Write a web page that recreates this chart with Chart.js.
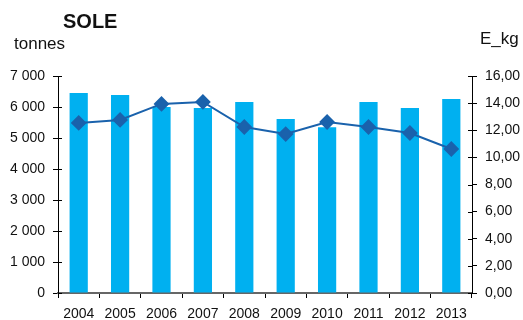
<!DOCTYPE html>
<html>
<head>
<meta charset="utf-8">
<script src="https://cdn.jsdelivr.net/npm/chart.js@4/dist/chart.umd.min.js"></script>
<style>
  body { margin: 0; background: #fff; }
  #wrap { position: relative; width: 523px; height: 320px; font-family: "Liberation Sans", Arial, sans-serif; }
  .lbl { position: absolute; color: #111; white-space: nowrap; }
</style>
</head>
<body>
<div id="wrap">
  <canvas id="c" width="523" height="320"></canvas>
  <div class="lbl" style="left:63px; top:10px; font-size:20px; font-weight:bold;">SOLE</div>
  <div class="lbl" style="left:14px; top:34px; font-size:17px;">tonnes</div>
  <div class="lbl" style="left:480px; top:29px; font-size:17px;">E_kg</div>
</div>
<script>
const years = ['2004', '2005', '2006', '2007', '2008', '2009', '2010', '2011', '2012', '2013'];
const tonnes = [6450, 6390, 6000, 5970, 6160, 5610, 5350, 6160, 5970, 6260];
const eKg = [12.54, 12.76, 13.94, 14.09, 12.24, 11.72, 12.61, 12.24, 11.80, 10.62];
const leftTicks = [0, 1000, 2000, 3000, 4000, 5000, 6000, 7000];
const rightTicks = [0, 2, 4, 6, 8, 10, 12, 14, 16];

// short inner tick marks on the y axes (Excel style crossing ticks)
const innerTicks = {
    id: 'innerTicks',
    afterDatasetsDraw(chart) {
        const ctx = chart.ctx;
        ctx.save();
        ctx.strokeStyle = '#000';
        ctx.lineWidth = 1;
        const l = chart.scales.y, r = chart.scales.y2;
        leftTicks.forEach(v => {
            const y = Math.round(l.getPixelForValue(v)) + 0.5;
            ctx.beginPath(); ctx.moveTo(l.right, y); ctx.lineTo(l.right + 4, y); ctx.stroke();
        });
        rightTicks.forEach(v => {
            const y = Math.round(r.getPixelForValue(v)) + 0.5;
            ctx.beginPath(); ctx.moveTo(r.left - 4, y); ctx.lineTo(r.left, y); ctx.stroke();
        });
        ctx.restore();
    }
};

new Chart(document.getElementById('c').getContext('2d'), {
    type: 'bar',
    data: {
        labels: years,
        datasets: [{
            type: 'line',
            label: 'E_kg',
            data: eKg,
            yAxisID: 'y2',
            borderColor: '#1A62AC',
            backgroundColor: '#1A62AC',
            borderWidth: 2,
            pointStyle: 'rectRot',
            pointRadius: 6.5,
            pointHoverRadius: 6.5,
            tension: 0,
            order: 0
        }, {
            label: 'tonnes',
            data: tonnes,
            yAxisID: 'y',
            backgroundColor: '#00B0F0',
            categoryPercentage: 1,
            barPercentage: 0.44,
            order: 1
        }]
    },
    options: {
        responsive: false,
        animation: false,
        layout: { padding: { top: 76, left: 0, right: 0, bottom: 0 } },
        plugins: { legend: { display: false }, tooltip: { enabled: false } },
        scales: {
            x: {
                offset: true,
                grid: { offset: true, drawOnChartArea: false, color: '#000', tickLength: 5 },
                border: { color: '#666', width: 2 },
                ticks: { color: '#111', font: { family: 'Liberation Sans', size: 14 }, padding: 8, maxRotation: 0 },
                afterFit: s => { s.height = 27; }
            },
            y: {
                position: 'left',
                min: 0, max: 7000,
                afterBuildTicks: s => { s.ticks = leftTicks.map(v => ({ value: v })); },
                grid: { drawOnChartArea: false, color: '#000', tickLength: 5 },
                border: { color: '#000' },
                ticks: {
                    color: '#111', font: { family: 'Liberation Sans', size: 14 }, padding: 8,
                    callback: v => String(v).replace(/\B(?=(\d{3})+(?!\d))/g, ' ')
                },
                afterFit: s => { s.width = 58; }
            },
            y2: {
                position: 'right',
                min: 0, max: 16,
                afterBuildTicks: s => { s.ticks = rightTicks.map(v => ({ value: v })); },
                grid: { drawOnChartArea: false, color: '#000', tickLength: 5 },
                border: { color: '#000' },
                ticks: {
                    color: '#111', font: { family: 'Liberation Sans', size: 14 }, padding: 8,
                    callback: v => v.toFixed(2).replace('.', ',')
                },
                afterFit: s => { s.width = 51; }
            }
        }
    },
    plugins: [innerTicks]
});
</script>
</body>
</html>
